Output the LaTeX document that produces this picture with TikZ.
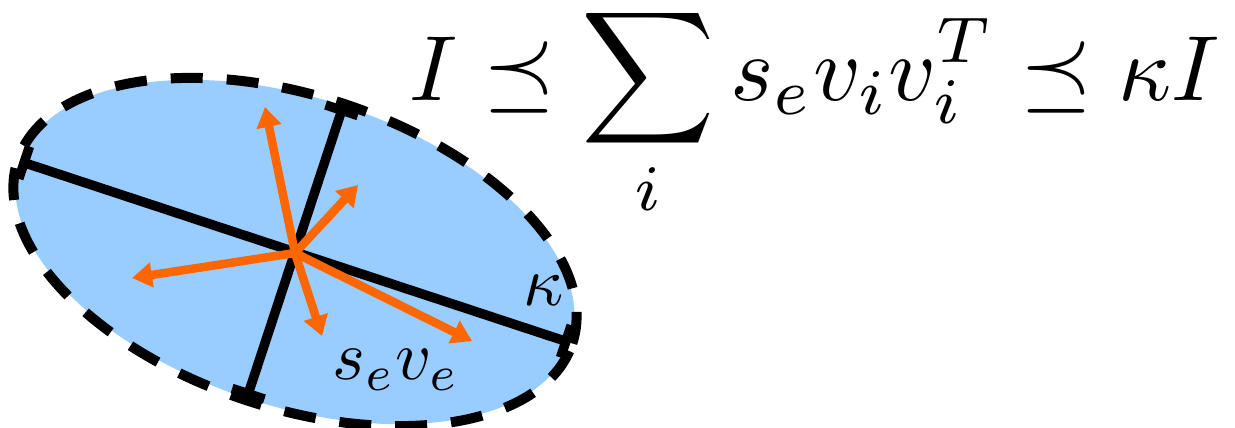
\documentclass[tikz,border=0pt]{standalone}
\usetikzlibrary{calc,arrows.meta}
\definecolor{ellfill}{RGB}{153,204,255}
\definecolor{vecorange}{RGB}{255,102,0}
\begin{document}
\begin{tikzpicture}[x=1pt,y=1pt,
  ellfillst/.style={fill=ellfill,draw=none},
  border/.style={draw=black,line width=10pt,dash pattern=on 32pt off 24pt},
  axisline/.style={draw=black,line width=9.5pt,{Bar[width=34pt]}-{Bar[width=34pt]}},
  vec/.style={draw=vecorange,line width=8.5pt,-{Triangle[length=20pt,width=24pt]}},
  bigmath/.style={inner sep=0pt,scale=9.25},
  labmath/.style={inner sep=0pt,scale=7}]
\useasboundingbox (0,0) rectangle (1235,428);
\coordinate (c) at (295,176);
\path[ellfillst,rotate around={-18.25:(c)}] (c) ellipse [x radius=290, y radius=154];
\path[border,rotate around={-18.25:(c)}] (c) ellipse [x radius=292, y radius=156];
\coordinate (ma1) at ($(c)+(161.75:290)$);
\coordinate (ma2) at ($(c)+(-18.25:290)$);
\coordinate (mi1) at ($(c)+(71.75:154)$);
\coordinate (mi2) at ($(c)+(-108.25:154)$);
\draw[axisline] (ma1) -- (ma2);
\draw[axisline] (mi1) -- (mi2);
\coordinate (o) at (295,175);
\coordinate (t1) at (265,321);
\coordinate (t2) at (358,243);
\coordinate (t3) at (132,150);
\coordinate (t4) at (322,92);
\coordinate (t5) at (472,87);
\foreach \t in {t1,t2,t3,t4,t5} \draw[vec] (o) -- (\t);
\node[bigmath,anchor=base west] (formula) at (408,327) {$\displaystyle I \preceq \sum_i s_e v_i v_i^T \preceq \kappa I$};
\node[labmath] (kappa) at (544,138) {$\kappa$};
\node[labmath] (sv) at (396,58) {$s_e v_e$};
\end{tikzpicture}
\end{document}
